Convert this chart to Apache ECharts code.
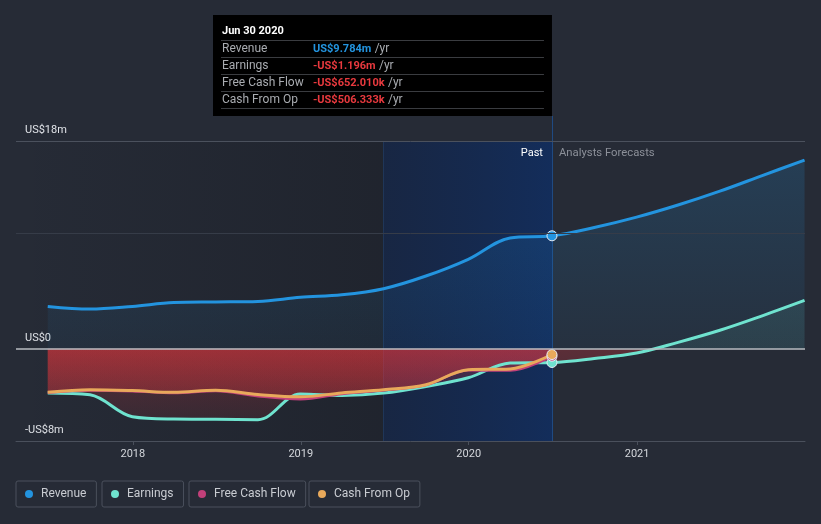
<!DOCTYPE html>
<html><head><meta charset="utf-8">
<script src="https://cdn.jsdelivr.net/npm/echarts@6/dist/echarts.min.js"></script>
<style>html,body{margin:0;padding:0;background:#262b36;}#c{width:821px;height:524px;}</style>
</head><body><div id="c"></div>
<script>
// ---- data ----
const pastDates = ['2017-06-30','2017-09-30','2017-12-31','2018-03-31','2018-06-30','2018-09-30','2018-12-31','2019-03-31','2019-06-30','2019-09-30','2019-12-31','2020-03-31','2020-06-30'];
const revenuePast  = [3.66, 3.43, 3.66, 4.00, 4.05, 4.10, 4.45, 4.67, 5.20, 6.30, 7.75, 9.60, 9.784];
const earningsPast = [-3.83, -4.00, -5.90, -6.10, -6.12, -6.15, -3.92, -4.05, -3.85, -3.28, -2.52, -1.25, -1.196];
const fcfPast      = [-3.82, -3.62, -3.68, -3.85, -3.66, -4.12, -4.38, -3.92, -3.60, -3.16, -1.86, -1.90, -0.652];
const cfoPast      = [-3.78, -3.55, -3.63, -3.78, -3.60, -3.97, -4.17, -3.83, -3.55, -3.12, -1.82, -1.75, -0.506];
const forecastDates    = ['2020-06-30','2020-09-30','2020-12-31','2021-03-31','2021-06-30','2021-09-30','2021-12-31'];
const revenueForecast  = [9.784, 10.50, 11.40, 12.45, 13.65, 15.00, 16.35];
const earningsForecast = [-1.196, -0.85, -0.38, 0.55, 1.60, 2.85, 4.18];
const xTickDates = ['2018-01-01','2019-01-01','2020-01-01','2021-01-01'];
const xTickLabels = ['2018','2019','2020','2021'];
const yLabelValues = [18, 0, -8];
const yLabelTexts = {'18':'US$18m','0':'US$0','-8':'-US$8m'};
const gridLineValues = [18, 10];
const seriesNames = ['Revenue','Earnings','Free Cash Flow','Cash From Op'];
const seriesColors = ['#2394df','#6fe3cf','#c2407a','#e8a95b'];
const tipTitle = 'Jun 30 2020';
const tipValues = ['US$9.784m','-US$1.196m','-US$652.010k','-US$506.333k'];
const pastStart = '2019-06-30';
const nowDate = '2020-06-30';
const xMin = '2017-04-22', xMax = '2022-01-01';

// ---- build ----
const P = s => Date.UTC(+s.slice(0,4), +s.slice(5,7) - 1, +s.slice(8,10));
function build(dates, vals, color, extraDates, extraVals) {
  const out = dates.map((d, i) => {
    const item = { value: [P(d), vals[i]] };
    if (d === nowDate) {
      item.symbol = 'circle'; item.symbolSize = 10;
      item.itemStyle = { color: color, borderColor: '#e8eef5', borderWidth: 1 };
    }
    return item;
  });
  if (extraDates) extraDates.slice(1).forEach((d, i) => out.push({ value: [P(d), extraVals[i + 1]] }));
  return out;
}
const tickVals = xTickDates.map(P);
const tickText = {}; tickVals.forEach((v, i) => tickText[v] = xTickLabels[i]);

const chart = echarts.init(document.getElementById('c'), null, { renderer: 'canvas' });
const font = 'Roboto, "Noto Sans", sans-serif';

const legendLefts = [16, 102, 189, 309];
const baseOption = {
  animation: false,
  backgroundColor: '#262b36',
  textStyle: { fontFamily: font },
  grid: { left: 16, right: 16, top: 116, bottom: 83, containLabel: false },
  xAxis: {
    type: 'value', min: P(xMin), max: P(xMax),
    axisLine: { show: true, onZero: false, lineStyle: { color: '#4a505c', width: 1 } },
    axisTick: { show: true, customValues: tickVals, length: 4, lineStyle: { color: '#4a505c' } },
    axisLabel: { customValues: tickVals, formatter: v => tickText[v] || '',
                 color: '#d4d7dc', fontSize: 11, margin: 8, fontFamily: font },
    splitLine: { show: false }
  },
  yAxis: {
    type: 'value', min: -8, max: 18 + 25 / (300 / 26),
    axisLine: { show: false }, axisTick: { show: false }, splitLine: { show: false },
    axisLabel: { customValues: yLabelValues, inside: true, margin: 9, verticalAlign: 'bottom',
                 padding: [0, 0, 5, 0], color: '#e0e3e8', fontSize: 11, fontFamily: font,
                 formatter: v => yLabelTexts[String(v)] }
  },
  legend: seriesNames.map((n, i) => ({
    data: [n], left: legendLefts[i], top: 481, icon: 'circle',
    itemWidth: 14, itemHeight: 8, itemGap: 0,
    padding: [7, 10, 7, 9], borderColor: '#4a505c', borderWidth: 1, borderRadius: 2,
    textStyle: { color: '#c9ccd2', fontSize: 12, lineHeight: 12, fontFamily: font }, selectedMode: false
  })),
  series: seriesNames.map((n, i) => ({ name: n, type: 'line', data: [], color: seriesColors[i] }))
};
chart.setOption(baseOption);

const yTop = chart.convertToPixel({ yAxisIndex: 0 }, 18);
const yZero = chart.convertToPixel({ yAxisIndex: 0 }, 0);
const yBot = chart.convertToPixel({ yAxisIndex: 0 }, -8);
const xNow = chart.convertToPixel({ xAxisIndex: 0 }, P(nowDate));
const f0 = (yZero - yTop) / (yBot - yTop);

const G = echarts.graphic.LinearGradient;
const revArea = new G(0, yTop, 0, yZero, [
  { offset: 0, color: 'rgba(35,148,223,0.28)' }, { offset: 1, color: 'rgba(35,148,223,0.08)' }], true);
const earnArea = new G(0, yTop, 0, yBot, [
  { offset: 0, color: 'rgba(111,227,207,0.24)' }, { offset: f0, color: 'rgba(111,227,207,0.12)' },
  { offset: f0, color: 'rgba(230,54,60,0.40)' }, { offset: 1, color: 'rgba(230,54,60,0.07)' }], true);
const redArea = new G(0, yZero, 0, yBot, [
  { offset: 0, color: 'rgba(230,54,60,0.40)' }, { offset: 1, color: 'rgba(230,54,60,0.05)' }], true);

function lineSeries(name, data, color, width, area, extra) {
  return Object.assign({
    name, type: 'line', data, smooth: 0.35,
    symbol: 'none', showSymbol: true, color,
    lineStyle: { color, width }, areaStyle: { color: area, origin: 0 },
    emphasis: { disabled: true }, silent: true
  }, extra || {});
}

chart.setOption({
  series: [
    lineSeries('Revenue', build(pastDates, revenuePast, seriesColors[0], forecastDates, revenueForecast), seriesColors[0], 3, revArea, {
      markArea: {
        silent: true, z: 1,
        data: [
          [{ coord: [P(xMin), 18], itemStyle: { color: { type: 'linear', x: 0, y: 0, x2: 1, y2: 0,
              colorStops: [{ offset: 0, color: 'rgba(12,14,20,0.0)' }, { offset: 1, color: 'rgba(12,14,20,0.24)' }] } } },
           { coord: [P(pastStart), -8] }],
          [{ coord: [P(pastStart), 18], itemStyle: { color: { type: 'linear', x: 0, y: 0, x2: 1, y2: 0,
              colorStops: [{ offset: 0, color: 'rgba(10,34,80,0.5)' }, { offset: 1, color: 'rgba(12,46,105,0.72)' }] } } },
           { coord: [P(nowDate), -8] }]
        ]
      },
      markLine: {
        silent: true, z: 1.5, symbol: ['none', 'none'], label: { show: false },
        data: [
          [{ coord: [P(pastStart), 18], lineStyle: { color: '#1f3658', width: 1, type: 'solid' } }, { coord: [P(pastStart), -8] }],
          { xAxis: P(nowDate), lineStyle: { color: '#1f4a82', width: 1, type: 'solid' } }
        ]
      }
    }),
    lineSeries('Earnings', build(pastDates, earningsPast, seriesColors[1], forecastDates, earningsForecast), seriesColors[1], 3, earnArea),
    lineSeries('Free Cash Flow', build(pastDates, fcfPast, seriesColors[2]), seriesColors[2], 2.5, redArea),
    lineSeries('Cash From Op', build(pastDates, cfoPast, seriesColors[3]), seriesColors[3], 3, redArea, {
      markLine: {
        silent: true, symbol: ['none', 'none'], label: { show: false },
        data: [
          { yAxis: gridLineValues[0], lineStyle: { color: '#4b515d', width: 1, type: 'solid' } },
          { yAxis: gridLineValues[1], lineStyle: { color: '#363c48', width: 1, type: 'solid' } },
          { yAxis: 0, lineStyle: { color: '#b9bcc2', width: 1.5, type: 'solid' } }
        ]
      }
    })
  ],
  graphic: (function () {
    const els = [];
    const bx = 213, by = 15, bw = xNow - 213, bh = 101;
    els.push({ type: 'rect', z: 100, shape: { x: bx, y: by, width: bw, height: bh }, style: { fill: '#000' }, silent: true });
    els.push({ type: 'text', z: 101, x: bx + 9, y: by + 16.5, style: { text: tipTitle, fill: '#fff', font: 'bold 11px ' + font, verticalAlign: 'middle' }, silent: true });
    for (let i = 0; i < 4; i++) {
      const ly = by + 25.5 + 17 * i;
      els.push({ type: 'line', z: 101, shape: { x1: bx + 8, y1: ly, x2: bx + bw - 8, y2: ly }, style: { stroke: '#3a3c40', lineWidth: 1 }, silent: true });
      els.push({ type: 'text', z: 101, x: bx + 9, y: ly + 8.5, style: { text: seriesNames[i], fill: '#a9acb1', font: '12px ' + font, verticalAlign: 'middle' }, silent: true });
      const vc = i === 0 ? '#2394df' : '#e8393e';
      els.push({ type: 'text', z: 101, x: bx + 100, y: ly + 8.5, style: {
        text: '{v|' + tipValues[i] + '} {u|/yr}', verticalAlign: 'middle',
        rich: { v: { fill: vc, font: 'bold 11px ' + font }, u: { fill: '#a9acb1', font: '12px ' + font } } }, silent: true });
    }
    els.push({ type: 'line', z: 101, shape: { x1: bx + 8, y1: by + 25.5 + 68, x2: bx + bw - 8, y2: by + 25.5 + 68 }, style: { stroke: '#3a3c40', lineWidth: 1 }, silent: true });
    els.push({ type: 'text', z: 101, x: xNow - 9, y: yTop + 12, style: { text: 'Past', fill: '#ffffff', font: '11px ' + font, align: 'right', verticalAlign: 'middle' }, silent: true });
    els.push({ type: 'text', z: 101, x: xNow + 7, y: yTop + 12, style: { text: 'Analysts Forecasts', fill: '#8c9099', font: '11.3px ' + font, align: 'left', verticalAlign: 'middle' }, silent: true });
    return els;
  })()
});
</script>
</body></html>
